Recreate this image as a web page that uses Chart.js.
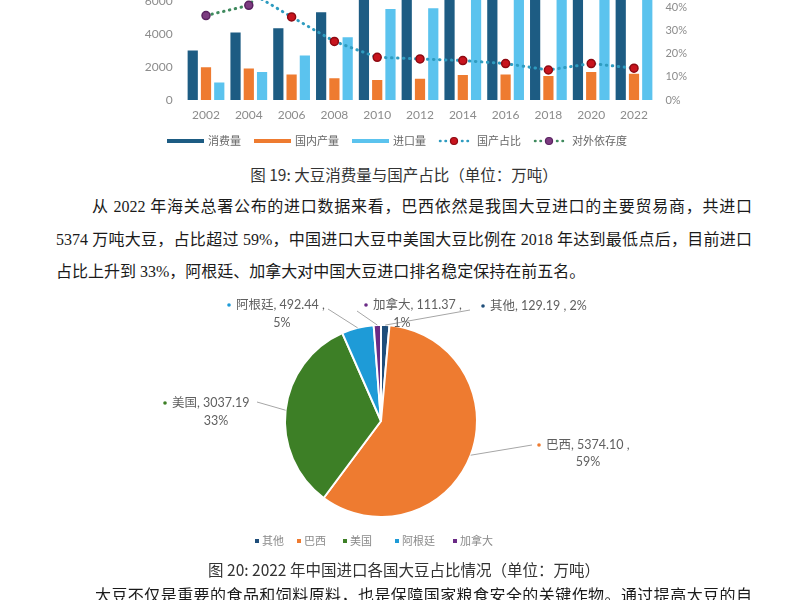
<!DOCTYPE html>
<html lang="zh">
<head>
<meta charset="utf-8">
<script src="https://cdn.jsdelivr.net/npm/chart.js@4.4.1/dist/chart.umd.min.js"></script>
<style>
  html, body { margin: 0; padding: 0; }
  body { width: 800px; height: 600px; overflow: hidden; position: relative; background: #fff;
         font-family: "Noto Sans CJK SC", sans-serif; }
  .cap { position: absolute; left: 0; width: 808px; text-align: center; font-size: 15.5px;
         line-height: 20px; color: #333; white-space: nowrap; }
  .para { position: absolute; font-family: "Liberation Serif", "Noto Sans CJK SC", serif; font-size: 16px;
          line-height: 22px; color: #1a1a1a; white-space: nowrap; }
  .just { text-align: justify; text-align-last: justify; }
</style>
</head>
<body>

<div style="position:absolute;left:0;top:-150px;width:800px;height:310px;">
  <canvas id="barChart" width="800" height="310"></canvas>
</div>

<div class="cap" style="top:164px;">图 19: 大豆消费量与国产占比（单位：万吨）</div>
<div class="para just" style="top:196px;left:92px;width:660px;">从 2022 年海关总署公布的进口数据来看，巴西依然是我国大豆进口的主要贸易商，共进口</div>
<div class="para just" style="top:229px;left:56px;width:696px;">5374 万吨大豆，占比超过 59%，中国进口大豆中美国大豆比例在 2018 年达到最低点后，目前进口</div>
<div class="para" style="top:261px;left:56px;">占比上升到 33%，阿根廷、加拿大对中国大豆进口排名稳定保持在前五名。</div>

<div style="position:absolute;left:0;top:280px;width:800px;height:280px;">
  <canvas id="pieChart" width="800" height="280"></canvas>
</div>

<div class="cap" style="top:559px;">图 20: 2022 年中国进口各国大豆占比情况（单位：万吨）</div>
<div class="para just" style="top:585px;left:95px;width:657px;">大豆不仅是重要的食品和饲料原料，也是保障国家粮食安全的关键作物。通过提高大豆的自</div>

<script>
// chart 19 data
const years = ['2002', '2004', '2006', '2008', '2010', '2012', '2014', '2016', '2018', '2020', '2022'];
const consumption = [3000, 4100, 4350, 5320, 6900, 7600, 8500, 9800, 10300, 11600, 11400];
const domesticOutput = [1990, 1910, 1550, 1320, 1220, 1290, 1520, 1540, 1450, 1700, 1590];
const imports = [1060, 1700, 2700, 3800, 5520, 5560, 7140, 8390, 8800, 10030, 9110];
const domesticShare = [67, 47, 36, 25.4, 18.5, 17.8, 17.1, 15.8, 13.0, 15.8, 13.8];
const importDependence = [36.6, 41, 62, 71, 80, 75, 84, 86, 85, 86, 80];
const leftTicks = [0, 2000, 4000, 6000, 8000, 10000, 12000, 14000];

// chart 20 data
const countries = ['其他', '巴西', '美国', '阿根廷', '加拿大'];
const importVolume = [129.19, 5374.10, 3037.19, 492.44, 111.37];
const shareLabels = ['2%', '59%', '33%', '5%', '1%'];

const colors = {
  consumption: '#1d5c83', output: '#ee7b30', imports: '#5bc3ee',
  shareLine: '#2f9cc0', shareDot: '#c8141e',
  depLine: '#3f8a5e', depDot: '#7c3b80'
};
const pieColors = ['#1f4e7a', '#ee7b30', '#3d7f26', '#1e9bd7', '#6a2a85'];

Chart.defaults.font.family = 'Lato, "Noto Sans CJK SC", sans-serif';
Chart.defaults.animation = false;

// legend drawn under the bar chart (page y ~141), laid out left to right
const barLegend = {
  id: 'barLegend',
  afterDraw(chart) {
    const ctx = chart.ctx;
    const y = 291;
    let x = 167;
    ctx.save();
    ctx.font = '11px "Noto Sans CJK SC"';
    ctx.textBaseline = 'middle';
    chart.data.datasets.forEach(ds => {
      if (ds.type === 'line') {
        const w = 30;
        ctx.strokeStyle = ds.borderColor;
        ctx.lineWidth = 2.5;
        ctx.lineCap = 'round';
        ctx.setLineDash([0.5, 5]);
        ctx.beginPath(); ctx.moveTo(x + 1, y); ctx.lineTo(x + w, y); ctx.stroke();
        ctx.setLineDash([]);
        ctx.fillStyle = ds.pointBackgroundColor;
        ctx.strokeStyle = ds.pointBorderColor;
        ctx.lineWidth = 1.2;
        ctx.beginPath(); ctx.arc(x + w / 2, y, 3.5, 0, Math.PI * 2); ctx.fill(); ctx.stroke();
        x += w + 8;
      } else {
        ctx.fillStyle = ds.backgroundColor;
        ctx.fillRect(x, y - 2, 37, 4);
        x += 41;
      }
      ctx.fillStyle = '#666';
      ctx.fillText(ds.label, x, y);
      x += ctx.measureText(ds.label).width + 13;
    });
    ctx.restore();
  }
};

new Chart(document.getElementById('barChart'), {
  data: {
    labels: years,
    datasets: [
      { type: 'bar', label: '消费量', data: consumption, backgroundColor: colors.consumption, yAxisID: 'y', order: 2 },
      { type: 'bar', label: '国内产量', data: domesticOutput, backgroundColor: colors.output, yAxisID: 'y', order: 2 },
      { type: 'bar', label: '进口量', data: imports, backgroundColor: colors.imports, yAxisID: 'y', order: 2 },
      { type: 'line', label: '国产占比', data: domesticShare, yAxisID: 'y1', order: 0,
        borderColor: colors.shareLine, borderWidth: 3, borderDash: [0.5, 5.5], borderCapStyle: 'round',
        pointRadius: 4, pointBorderWidth: 1.5, pointBackgroundColor: colors.shareDot, pointBorderColor: '#8e0a12' },
      { type: 'line', label: '对外依存度', data: importDependence, yAxisID: 'y1', order: 1,
        borderColor: colors.depLine, borderWidth: 3, borderDash: [0.5, 5.5], borderCapStyle: 'round',
        pointRadius: 4, pointBorderWidth: 1.5, pointBackgroundColor: colors.depDot, pointBorderColor: '#5a2260' }
    ]
  },
  options: {
    responsive: false,
    devicePixelRatio: 1,
    layout: { padding: { left: 124.6, right: 84.6, top: 10, bottom: 30 } },
    datasets: { bar: { categoryPercentage: 0.93, barPercentage: 0.77, borderWidth: 0 } },
    plugins: { legend: { display: false }, tooltip: { enabled: false } },
    scales: {
      x: {
        grid: { display: false, drawTicks: false }, border: { display: false },
        ticks: { color: '#8c8c8c', font: { size: 12 }, padding: 8, maxRotation: 0 },
        afterFit: a => { a.height = 30; }
      },
      y: {
        position: 'left', min: 0, max: leftTicks[leftTicks.length - 1],
        grid: { display: false, drawTicks: false }, border: { display: false },
        afterBuildTicks: a => { a.ticks = leftTicks.map(v => ({ value: v })); },
        ticks: { color: '#8c8c8c', font: { size: 12 }, padding: 12, callback: v => String(v) },
        afterFit: a => { a.width = 60; }
      },
      y1: {
        position: 'right', min: 0, max: 100,
        grid: { display: false, drawTicks: false }, border: { display: false },
        ticks: { stepSize: 10, color: '#8c8c8c', font: { size: 11 }, padding: 10, callback: v => v + '%' },
        afterFit: a => { a.width = 60; }
      }
    }
  },
  plugins: [barLegend]
});

// pie labels: text spots in page coordinates (layout only)
const pieTop = 280;
const pieLabelSpots = [
  { x: 490, y: 306, lx: 470, ly: 310 },
  { x: 546, y: 445, x2: 588, y2: 462, lx: 532, ly: 445 },
  { x: 172, y: 403, x2: 216, y2: 421, lx: 257, ly: 402 },
  { x: 236, y: 305, x2: 282, y2: 323, lx: 328, ly: 309 },
  { x: 373, y: 305, x2: 402, y2: 323, lx: 357, ly: 311 }
];
const pieLegendX = [257, 299, 345, 397, 455];

const pieLabels = {
  id: 'pieLabels',
  afterDraw(chart) {
    const ctx = chart.ctx;
    const arcs = chart.getDatasetMeta(0).data;
    const vals = chart.data.datasets[0].data;
    ctx.save();
    ctx.textBaseline = 'middle';
    arcs.forEach((arc, i) => {
      const s = pieLabelSpots[i];
      const mid = (arc.startAngle + arc.endAngle) / 2;
      const ex = arc.x + Math.cos(mid) * arc.outerRadius;
      const ey = arc.y + Math.sin(mid) * arc.outerRadius;
      ctx.strokeStyle = '#a6a6a6';
      ctx.lineWidth = 1;
      ctx.beginPath(); ctx.moveTo(ex, ey); ctx.lineTo(s.lx, s.ly - pieTop); ctx.stroke();

      ctx.fillStyle = pieColors[i];
      ctx.beginPath(); ctx.arc(s.x - 7, s.y - pieTop, 1.8, 0, Math.PI * 2); ctx.fill();

      ctx.font = '12.5px Lato, "Noto Sans CJK SC"';
      ctx.fillStyle = '#5f5f5f';
      ctx.textAlign = 'left';
      const head = chart.data.labels[i] + ', ' + vals[i].toFixed(2) + ' ,';
      if (s.x2 === undefined) {
        ctx.fillText(head + ' ' + shareLabels[i], s.x, s.y - pieTop);
      } else {
        ctx.fillText(i === 2 ? head.slice(0, -2) : head, s.x, s.y - pieTop);
        ctx.textAlign = 'center';
        ctx.fillText(shareLabels[i], s.x2, s.y2 - pieTop);
      }
    });

    // legend row
    const ly = 541 - pieTop;
    ctx.font = '11px "Noto Sans CJK SC"';
    ctx.textAlign = 'left';
    chart.data.labels.forEach((name, i) => {
      const x = pieLegendX[i];
      ctx.fillStyle = pieColors[i];
      ctx.fillRect(x - 2, ly - 2, 4, 4);
      ctx.fillStyle = '#8a8a8a';
      ctx.fillText(name, x + 5, ly);
    });
    ctx.restore();
  }
};

new Chart(document.getElementById('pieChart'), {
  type: 'pie',
  data: {
    labels: countries,
    datasets: [{ data: importVolume, backgroundColor: pieColors, borderColor: '#fff', borderWidth: 2 }]
  },
  options: {
    responsive: false,
    devicePixelRatio: 1,
    layout: { padding: { left: 284, right: 322, top: 44, bottom: 42 } },
    plugins: { legend: { display: false }, tooltip: { enabled: false } }
  },
  plugins: [pieLabels]
});
</script>
</body>
</html>
